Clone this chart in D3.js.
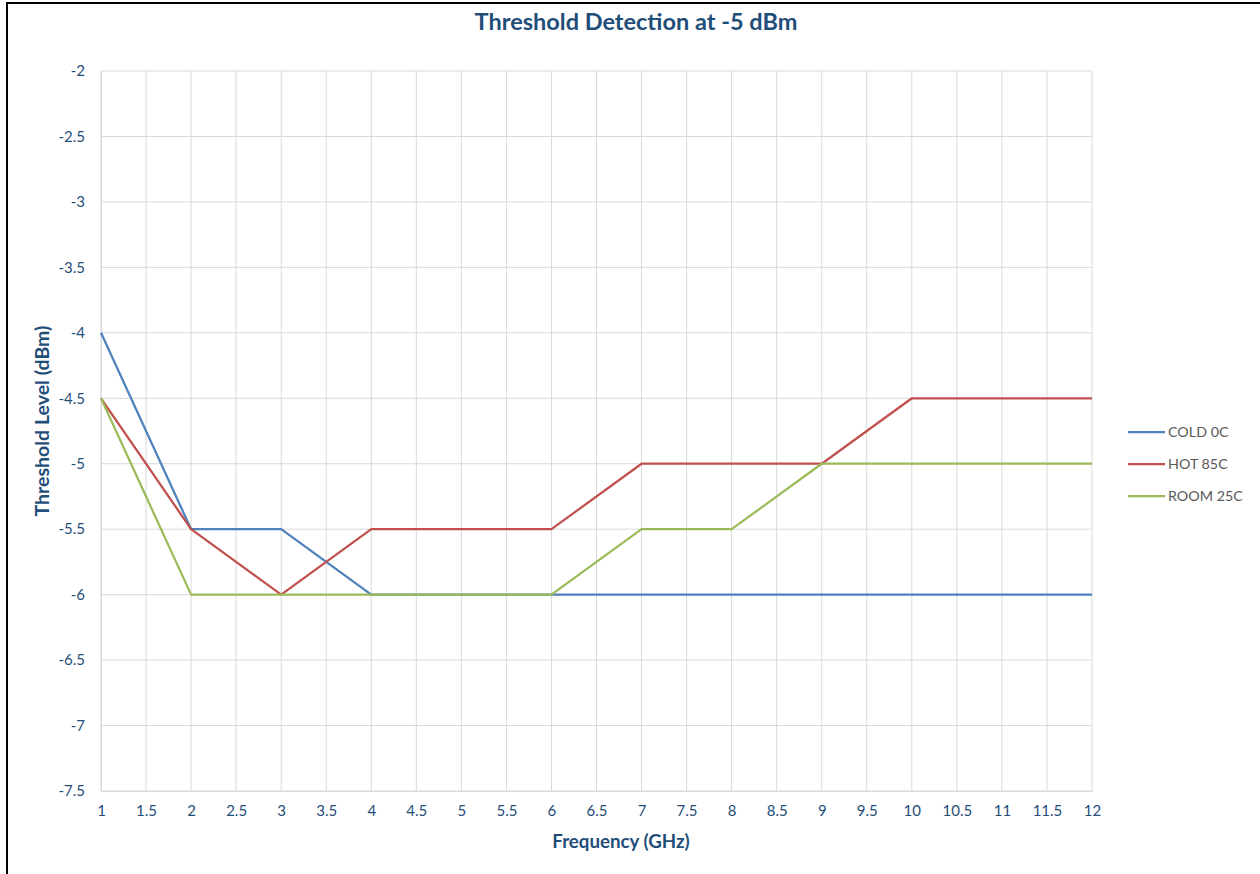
<!DOCTYPE html>
<html><head><meta charset="utf-8">
<script src="https://cdn.jsdelivr.net/npm/d3@7"></script>
<style>body{margin:0;background:#fff;} svg{display:block;}</style>
</head><body>
<svg id="c" width="1260" height="874"></svg>
<script>
const freqs = [1,2,3,4,5,6,7,8,9,10,11,12];
const cold = [-4,-5.5,-5.5,-6,-6,-6,-6,-6,-6,-6,-6,-6];
const hot = [-4.5,-5.5,-6,-5.5,-5.5,-5.5,-5,-5,-5,-4.5,-4.5,-4.5];
const room = [-4.5,-6,-6,-6,-6,-6,-5.5,-5.5,-5,-5,-5,-5];
const seriesNames = ["COLD 0C","HOT 85C","ROOM 25C"];
const seriesColors = ["#4F81BD","#C0504D","#9BBB59"];
const xTicks = d3.range(1,12.01,0.5);
const yTicks = d3.range(-2,-7.51,-0.5);

const svg = d3.select("#c");
const font = "Lato, 'Open Sans', sans-serif";
const txtBlue = "#1F4E79";
const fmt = d => String(d);

// frame
svg.append("rect").attr("x",7).attr("y",3).attr("width",1270).attr("height",900)
  .attr("fill","#fff").attr("stroke","#000").attr("stroke-width",2);

const x = d3.scaleLinear().domain([1,12]).range([101,1092]);
const y = d3.scaleLinear().domain([-7.5,-2]).range([791,71]);

// grid
svg.append("g").selectAll("line").data(xTicks).join("line")
  .attr("x1",d=>x(d)).attr("x2",d=>x(d)).attr("y1",y(-2)).attr("y2",y(-7.5))
  .attr("stroke","#d9d9d9").attr("stroke-width",1);
svg.append("g").selectAll("line").data(yTicks).join("line")
  .attr("x1",x(1)).attr("x2",x(12)).attr("y1",d=>y(d)).attr("y2",d=>y(d))
  .attr("stroke","#d9d9d9").attr("stroke-width",1);

// axes (labels only)
const xa = svg.append("g").attr("transform",`translate(0,${y(-7.5)})`)
  .call(d3.axisBottom(x).tickValues(xTicks).tickSize(0).tickPadding(14).tickFormat(fmt));
xa.select(".domain").attr("stroke","#d9d9d9");
xa.selectAll("text").attr("fill",txtBlue).style("font-family",font).style("font-size","15px");
const ya = svg.append("g").attr("transform",`translate(${x(1)},0)`)
  .call(d3.axisLeft(y).tickValues(yTicks).tickSize(0).tickPadding(16).tickFormat(fmt));
ya.select(".domain").attr("stroke","#d9d9d9");
ya.selectAll("text").attr("fill",txtBlue).style("font-family",font).style("font-size","15px");

// lines
const data = [cold,hot,room];
const line = d3.line().x((d,i)=>x(freqs[i])).y(d=>y(d));
data.forEach((s,k)=>{
  svg.append("path").attr("d",line(s)).attr("fill","none")
    .attr("stroke",seriesColors[k]).attr("stroke-width",2.25).attr("stroke-linejoin","round");
});

// title
svg.append("text").attr("x",636).attr("y",30).attr("text-anchor","middle")
  .attr("fill",txtBlue).style("font-family",font).style("font-weight","bold").style("font-size","23.5px")
  .text("Threshold Detection at -5 dBm");
svg.append("text").attr("x",621).attr("y",848).attr("text-anchor","middle")
  .attr("fill",txtBlue).style("font-family",font).style("font-weight","bold").style("font-size","18.7px")
  .text("Frequency (GHz)");
svg.append("text").attr("transform","translate(49,421) rotate(-90)").attr("text-anchor","middle")
  .attr("fill",txtBlue).style("font-family",font).style("font-weight","bold").style("font-size","19.5px")
  .text("Threshold Level (dBm)");

// legend
const lg = svg.append("g");
seriesNames.forEach((n,k)=>{
  const ly = 432 + k*32;
  lg.append("line").attr("x1",1128).attr("x2",1165).attr("y1",ly).attr("y2",ly)
    .attr("stroke",seriesColors[k]).attr("stroke-width",2.25);
  lg.append("text").attr("x",1168).attr("y",ly+5).attr("fill","#595959")
    .style("font-family",font).style("font-size","14.3px").text(n);
});
</script>
</body></html>
